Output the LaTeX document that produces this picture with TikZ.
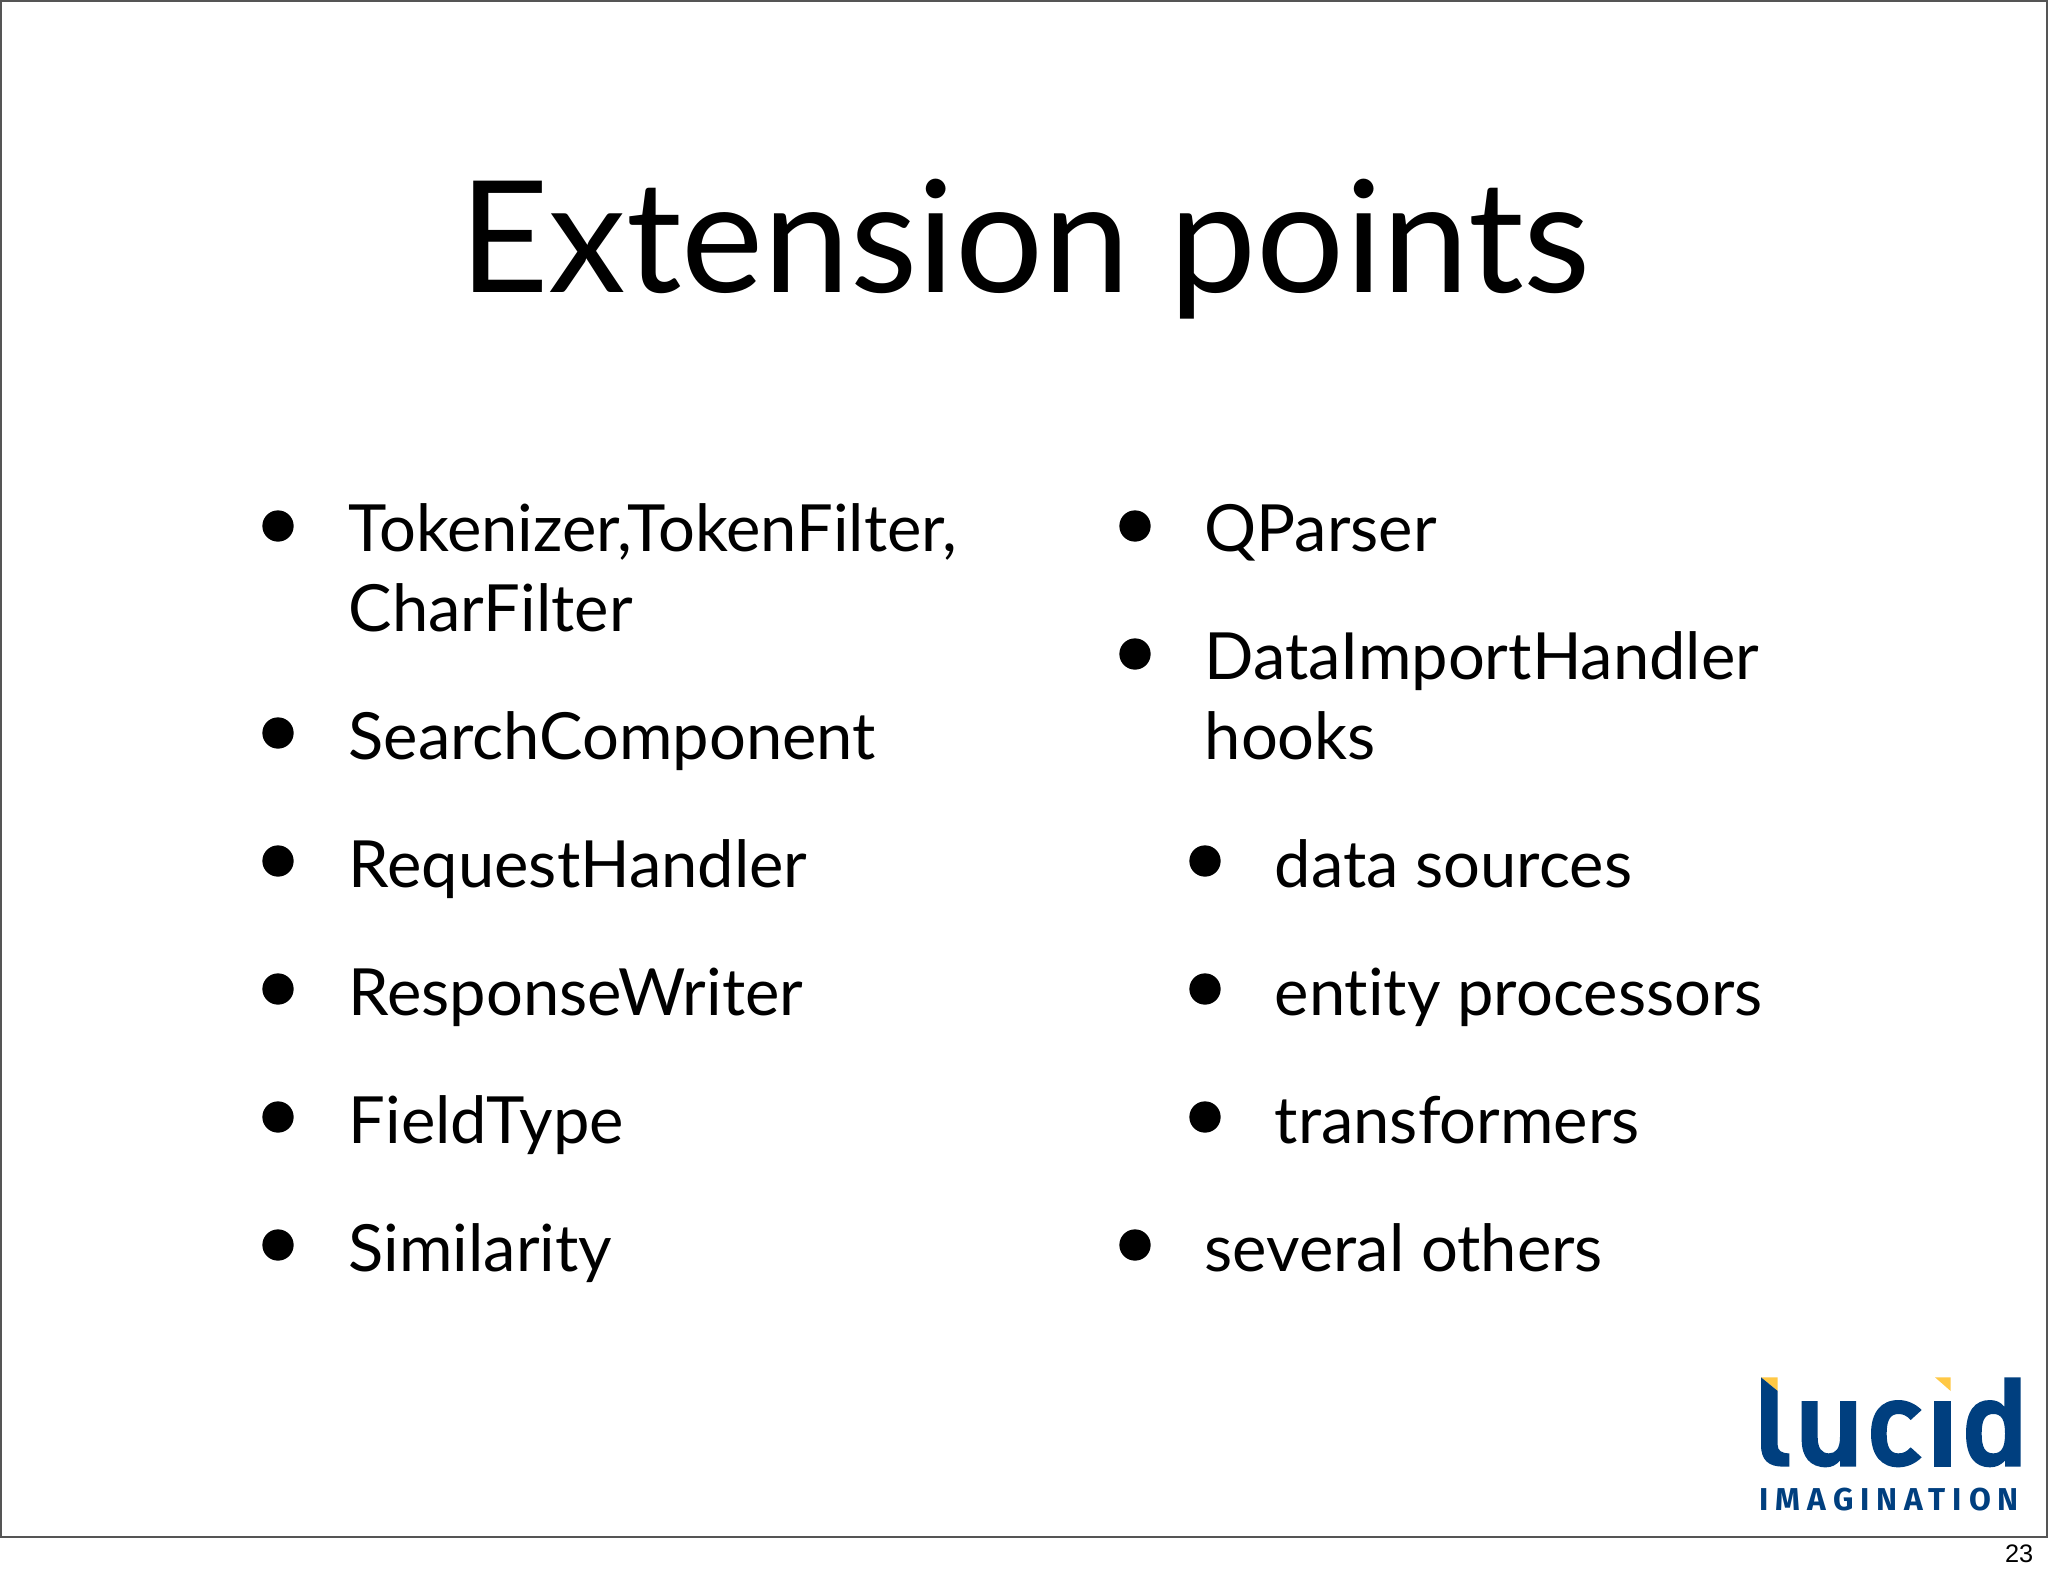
\documentclass[tikz,border=0pt]{standalone}
\usepackage{fontspec}
\setmainfont[Ligatures=CommonOff]{Lato}
\newfontfamily\logofont[LetterSpace=22]{Fira Sans}
\newfontfamily\pagefont{Liberation Sans}
\definecolor{lucidblue}{HTML}{003F7F}
\definecolor{lucidyellow}{HTML}{FFC845}
\definecolor{framegray}{HTML}{555555}
\tikzset{
    titletext/.style={anchor=base, inner sep=0pt, font=\fontsize{44.2pt}{44.2pt}\selectfont},
    itemtext/.style={anchor=base west, inner sep=0pt, font=\fontsize{18.5pt}{18.5pt}\selectfont},
    itemdot/.style={circle, fill=black, inner sep=0pt, minimum size=8.9pt},
}

\begin{document}
\begin{tikzpicture}[x=0.01cm, y=-0.01cm]
    \useasboundingbox (0,0) rectangle (2048,1576);

    % --- Rahmen ---
    \draw[framegray, line width=0.6pt] (1,1) -- (2047,1) -- (2047,1537) -- (1,1537) -- cycle;

    % --- Titel ---
    \node[titletext] (title) at (1025,292) {Extension points};

    % --- Linke Spalte ---
    \node[itemdot] (dotA) at (278,526) {};
    \node[itemtext] (tokenizer) at (348,551) {Tokenizer,TokenFilter,};
    \node[itemtext] (charfilter) at (348,631) {CharFilter};
    \node[itemdot] (dotB) at (278,733) {};
    \node[itemtext] (search) at (348,759) {SearchComponent};
    \node[itemdot] (dotC) at (278,861) {};
    \node[itemtext] (request) at (348,887) {RequestHandler};
    \node[itemdot] (dotD) at (278,989) {};
    \node[itemtext] (response) at (348,1015) {ResponseWriter};
    \node[itemdot] (dotE) at (278,1117) {};
    \node[itemtext] (fieldtype) at (348,1143) {FieldType};
    \node[itemdot] (dotF) at (278,1245) {};
    \node[itemtext] (similarity) at (348,1271) {Similarity};

    % --- Rechte Spalte ---
    \node[itemdot] (dotG) at (1135,526) {};
    \node[itemtext] (qparser) at (1204,551) {QParser};
    \node[itemdot] (dotH) at (1135,654) {};
    \node[itemtext] (dih) at (1204,679) {DataImportHandler};
    \node[itemtext] (hooks) at (1204,759) {hooks};
    \node[itemdot] (dotI) at (1205,861) {};
    \node[itemtext] (sources) at (1274,887) {data sources};
    \node[itemdot] (dotJ) at (1205,989) {};
    \node[itemtext] (entity) at (1274,1015) {entity processors};
    \node[itemdot] (dotK) at (1205,1117) {};
    \node[itemtext] (transformers) at (1274,1143) {transformers};
    \node[itemdot] (dotL) at (1135,1245) {};
    \node[itemtext] (others) at (1204,1271) {several others};

    % --- Logo ---
    \begin{scope}[shift={(1700,1340)}, x=0.01cm/3, y=-0.01cm/3]
        \fill[lucidyellow] (183,112) -- (233,112) -- (233,153) -- cycle;
        \fill[lucidyellow] (705,112) -- (752,112) -- (752,153) -- cycle;
        % l
        \fill[lucidblue] (183,112) -- (233,153) -- (233,315) .. controls (233,332) and (245,340) .. (268,340)
            -- (268,380) -- (250,380) .. controls (205,380) and (183,360) .. (183,315) -- cycle;
        % u
        \fill[lucidblue] (305,183) -- (353,183) -- (353,290) .. controls (353,325) and (365,340) .. (387,340)
            .. controls (408,340) and (420,325) .. (420,290) -- (420,183) -- (468,183) -- (468,380) -- (420,380)
            -- (420,362) .. controls (408,375) and (395,382) .. (378,382)
            .. controls (330,382) and (305,350) .. (305,300) -- cycle;
        % c
        \fill[lucidblue] (665,210) .. controls (645,190) and (620,180) .. (595,180)
            .. controls (545,180) and (513,215) .. (513,281) .. controls (513,347) and (545,382) .. (595,382)
            .. controls (620,382) and (645,372) .. (665,352) -- (632,322)
            .. controls (620,335) and (610,340) .. (595,340) .. controls (570,340) and (560,320) .. (560,281)
            .. controls (560,242) and (570,222) .. (595,222) .. controls (610,222) and (620,227) .. (632,240) -- cycle;
        % i
        \fill[lucidblue] (703,183) rectangle (752,380);
        % d
        \fill[lucidblue, even odd rule] (913,112) -- (962,112) -- (962,380) -- (915,380) -- (915,362)
            .. controls (903,375) and (888,382) .. (870,382) .. controls (825,382) and (798,350) .. (798,281)
            .. controls (798,212) and (825,180) .. (870,180) .. controls (888,180) and (903,187) .. (913,200) -- cycle
            (880,222) .. controls (855,222) and (845,240) .. (845,281) .. controls (845,322) and (855,340) .. (880,340)
            .. controls (905,340) and (915,322) .. (915,281) .. controls (915,240) and (905,222) .. (880,222) -- cycle;
        \node[anchor=base west, inner sep=0pt, lucidblue, font=\logofont\bfseries\fontsize{9pt}{9pt}\selectfont] (imagination) at (177,512) {IMAGINATION};
    \end{scope}

    % --- Seitenzahl ---
    \node[anchor=base east, inner sep=0pt, font=\pagefont\fontsize{7.2pt}{7.2pt}\selectfont] (pagenum) at (2034,1562) {23};
\end{tikzpicture}
\end{document}
